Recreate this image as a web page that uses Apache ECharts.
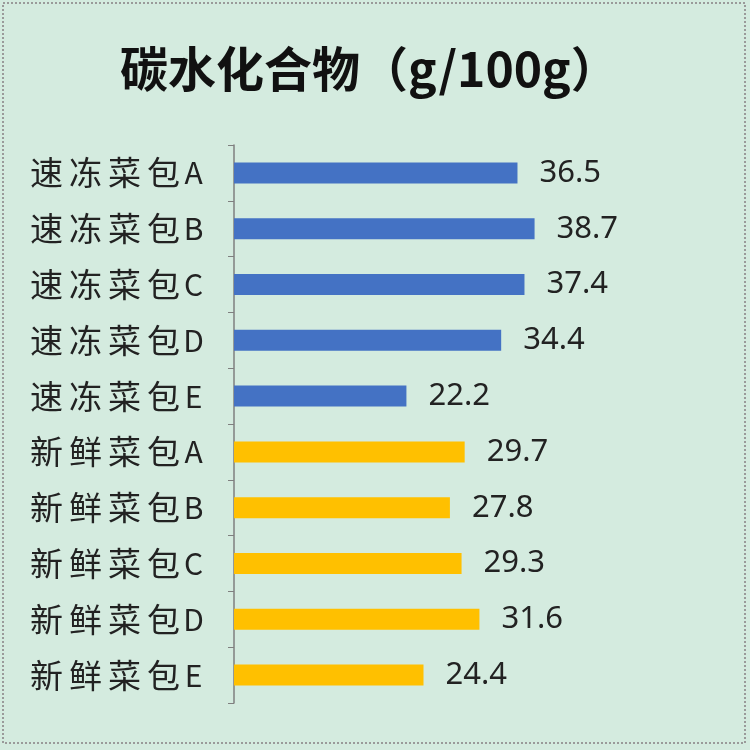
<!DOCTYPE html>
<html><head><meta charset="utf-8">
<script src="https://cdn.jsdelivr.net/npm/echarts@6/dist/echarts.min.js"></script>
<style>html,body{margin:0;padding:0;background:#fff}#c{width:750px;height:750px}</style>
</head><body><div id="c"></div>
<script>
const titleText = '碳水化合物（g/100g）';
const categories = ['速冻菜包A','速冻菜包B','速冻菜包C','速冻菜包D','速冻菜包E','新鲜菜包A','新鲜菜包B','新鲜菜包C','新鲜菜包D','新鲜菜包E'];
const values = [36.5, 38.7, 37.4, 34.4, 22.2, 29.7, 27.8, 29.3, 31.6, 24.4];
const groupColors = ['#4472C4', '#FFC000'];
const frozenCount = 5;

const chart = echarts.init(document.getElementById('c'), null, {renderer:'canvas'});
chart.setOption({
  backgroundColor: '#d4ebdf',
  animation: false,
  graphic: [{
    type: 'rect', shape: {x: 3, y: 3, width: 742, height: 740},
    style: {fill: 'none', stroke: '#9a9a9a', lineWidth: 2, lineDash: [2, 2]}, silent: true
  }],
  title: {
    text: titleText, left: 115, top: 40,
    textStyle: {fontFamily: 'Noto Sans CJK SC', fontWeight: 'bold', fontSize: 48, color: '#111'}
  },
  grid: {left: 234, right: 50, top: 145, bottom: 47, containLabel: false},
  xAxis: {
    type: 'value', min: 0, max: 60, show: false
  },
  yAxis: {
    type: 'category', data: categories, inverse: true,
    axisLine: {show: true, lineStyle: {color: '#7f7f7f', width: 1.5}},
    axisTick: {show: true, length: 6, lineStyle: {color: '#7f7f7f'}},
    axisLabel: {
      margin: 30,
      formatter: v => v.split('').map(ch => /[A-Z]/.test(ch) ? '{l|' + ch + '}' : '{h|' + ch + '}').join(''),
      rich: {
        h: {fontFamily: 'Noto Sans CJK SC', fontSize: 33, color: '#222', width: 39, align: 'center'},
        l: {fontFamily: 'Noto Sans CJK SC', fontSize: 30, color: '#222', width: 21, align: 'left'}
      }
    }
  },
  series: [{
    type: 'bar', data: values, barWidth: 21,
    itemStyle: {color: p => p.dataIndex < frozenCount ? groupColors[0] : groupColors[1]},
    label: {show: true, position: 'right', distance: 22, fontFamily: 'Noto Sans', fontSize: 31, color: '#222'}
  }]
});
</script></body></html>
